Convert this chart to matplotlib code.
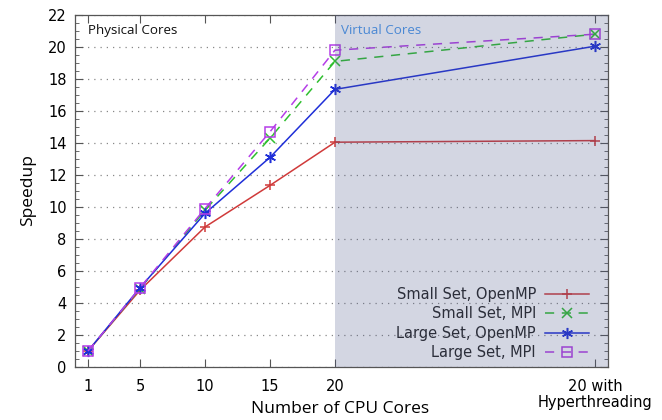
import matplotlib
matplotlib.use("Agg")
import matplotlib.pyplot as plt
from matplotlib.ticker import MultipleLocator

cores = [1, 5, 10, 15, 20, 40]
tick_labels = ["1", "5", "10", "15", "20", "20 with\nHyperthreading"]
small_openmp = [1.0, 4.8, 8.75, 11.35, 14.05, 14.15]
small_mpi = [1.0, 4.9, 9.8, 14.3, 19.1, 20.8]
large_openmp = [1.0, 4.95, 9.6, 13.1, 17.35, 20.05]
large_mpi = [1.0, 4.95, 9.9, 14.7, 19.8, 20.8]

plt.rcParams['font.family'] = ['DejaVu Sans']
fig = plt.figure(figsize=(6.62, 4.2), dpi=100)
ax = fig.add_axes([0.1133, 0.1262, 0.8051, 0.8381])

ax.plot(cores, small_openmp, color='#d03a3a', lw=1.1, marker='+', ms=7, mew=1.1,
        label='Small Set, OpenMP', zorder=3)
ax.plot(cores, small_mpi, color='#2fbf2f', lw=1.1, ls=(0, (6, 5)), marker='x', ms=7.5, mew=1.1,
        label='Small Set, MPI', zorder=3)
ax.plot(cores, large_openmp, color='#1f2fd8', lw=1.1, marker=(6, 2, 0), ms=8, mew=1.1,
        label='Large Set, OpenMP', zorder=3)
ax.plot(cores, large_mpi, color='#b53ee8', lw=1.1, ls=(0, (6, 5)), marker='s', ms=6.5, mew=1.1,
        mfc='none', label='Large Set, MPI', zorder=3)

ax.set_xlim(0, 41)
ax.set_ylim(0, 22)
ax.set_xticks(cores)
ax.set_xticklabels(tick_labels, linespacing=1.05)
ax.yaxis.set_major_locator(MultipleLocator(2))
ax.yaxis.set_minor_locator(MultipleLocator(0.5))
ax.tick_params(axis='both', labelsize=10.5, direction='in', top=True, right=True,
               color='#555555', length=6, width=0.8)
ax.tick_params(axis='x', pad=9)
ax.tick_params(axis='y', pad=6)
ax.tick_params(axis='y', which='minor', direction='in', right=True, length=3, color='#555555')
for s in ax.spines.values():
    s.set_color('#555555')
    s.set_linewidth(0.9)
ax.grid(axis='y', which='major', ls=(0, (1, 4)), color='#888888', lw=0.9, zorder=1)

leg = ax.legend(loc='lower right', bbox_to_anchor=(0.98, -0.005), frameon=False, markerfirst=False,
                fontsize=10.5, handlelength=3.0, labelspacing=0.3, borderaxespad=0.2,
                handletextpad=0.6)
for t in leg.get_texts():
    t.set_ha('right')
    t.set_color('#222222')
leg.set_zorder(4)

# translucent overlay for virtual cores region (drawn over lines and legend)
ax.axvspan(20, 41, color='#4a5688', alpha=0.24, lw=0, zorder=6)

ax.text(1.0, 21.06, 'Physical Cores', family='Open Sans', fontsize=9.6, color='#111111',
        va='center', ha='left', zorder=7)
ax.text(20.5, 21.06, 'Virtual Cores', family='Open Sans', fontsize=9.6, color='#4a88d4',
        va='center', ha='left', zorder=7)

fig.text(28 / 662, 1 - 190 / 420, 'Speedup', family='Open Sans', fontsize=12.5,
         rotation=90, ha='center', va='center')
fig.text(340 / 662, 1 - 409 / 420, 'Number of CPU Cores', family='Open Sans', fontsize=12.5,
         ha='center', va='center')

fig.savefig('out.png', dpi=100)
